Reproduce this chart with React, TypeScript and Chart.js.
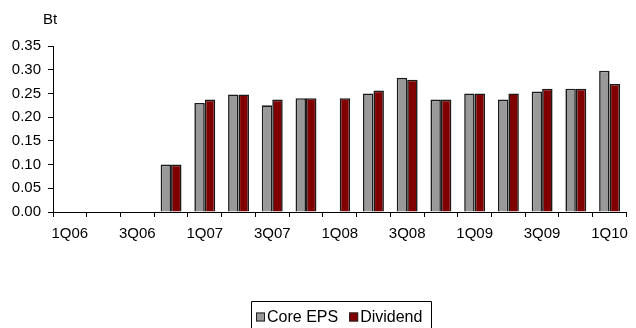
import React, { useEffect, useRef } from "react";
import { Chart, registerables } from "chart.js";

Chart.register(...registerables);

// Quarterly categories (every other one is labelled on the axis)
const quarters = [
  "1Q06", "2Q06", "3Q06", "4Q06",
  "1Q07", "2Q07", "3Q07", "4Q07",
  "1Q08", "2Q08", "3Q08", "4Q08",
  "1Q09", "2Q09", "3Q09", "4Q09",
  "1Q10",
];

const coreEps = [
  null, null, null, 0.1,
  0.23, 0.248, 0.225, 0.24,
  null, 0.25, 0.283, 0.237,
  0.25, 0.237, 0.254, 0.26,
  0.298,
];

const dividend = [
  null, null, null, 0.1,
  0.237, 0.248, 0.237, 0.24,
  0.24, 0.256, 0.279, 0.237,
  0.25, 0.25, 0.26, 0.26,
  0.27,
];

const yTicks = [0, 0.05, 0.1, 0.15, 0.2, 0.25, 0.3, 0.35];
const unitLabel = "Bt";

const FONT = "Liberation Sans, Arial, sans-serif";

const extrasPlugin = {
  id: "extras",
  afterDraw(chart: any) {
    const ctx = chart.ctx as CanvasRenderingContext2D;
    ctx.save();
    // unit label above the value axis
    ctx.fillStyle = "#000";
    ctx.font = `15px ${FONT}`;
    ctx.textBaseline = "alphabetic";
    ctx.textAlign = "left";
    ctx.fillText(unitLabel, 43, 24);

    // boxed legend below the plot
    const left = 251.5;
    const top = 301.5;
    const right = 431.5;
    ctx.strokeStyle = "#000";
    ctx.lineWidth = 1;
    ctx.beginPath();
    ctx.moveTo(left, 340);
    ctx.lineTo(left, top);
    ctx.lineTo(right, top);
    ctx.lineTo(right, 340);
    ctx.stroke();

    ctx.font = `16px ${FONT}`;
    ctx.textBaseline = "middle";
    let x = 256;
    const cy = 317;
    chart.data.datasets.forEach((ds: any) => {
      ctx.fillStyle = ds.backgroundColor;
      ctx.fillRect(x, cy - 4.5, 9, 9);
      ctx.strokeStyle = "#222";
      ctx.strokeRect(x + 0.5, cy - 4, 8, 8);
      ctx.fillStyle = "#000";
      ctx.fillText(ds.label, x + 11, cy + 0.5);
      x += 11 + ctx.measureText(ds.label).width + 11;
    });
    ctx.restore();
  },
};

export default function App() {
  const ref = useRef<HTMLCanvasElement>(null);

  useEffect(() => {
    if (!ref.current) return;
    const chart = new Chart(ref.current, {
      type: "bar",
      data: {
        labels: quarters,
        datasets: [
          {
            label: "Core EPS",
            data: coreEps,
            backgroundColor: "#999999",
            borderColor: "#1a1a1a",
            borderWidth: 1.6,
            categoryPercentage: 0.62,
            barPercentage: 1,
          },
          {
            label: "Dividend",
            data: dividend,
            backgroundColor: "#800000",
            borderColor: "#1a1a1a",
            borderWidth: 1.6,
            categoryPercentage: 0.62,
            barPercentage: 1,
          },
        ],
      },
      options: {
        responsive: false,
        animation: false,
        layout: { padding: { left: 0, right: 2.5, top: 46, bottom: 0 } },
        plugins: {
          legend: { display: false },
          tooltip: { enabled: false },
        },
        scales: {
          x: {
            offset: true,
            grid: {
              offset: true,
              display: true,
              drawOnChartArea: false,
              drawTicks: true,
              tickLength: 5,
              color: "#000",
            },
            border: { display: true, color: "#000", width: 1 },
            ticks: {
              autoSkip: false,
              maxRotation: 0,
              padding: 8,
              color: "#000",
              font: { family: FONT, size: 15 },
              callback: (_v: any, i: number) => (i % 2 === 0 ? quarters[i] : ""),
            },
            afterFit: (s: any) => {
              s.height = 116;
            },
          },
          y: {
            min: 0,
            max: 0.35,
            afterBuildTicks: (s: any) => {
              s.ticks = yTicks.map((v) => ({ value: v }));
            },
            grid: {
              display: true,
              drawOnChartArea: false,
              drawTicks: true,
              tickLength: 5,
              color: "#000",
            },
            border: { display: true, color: "#000", width: 1 },
            ticks: {
              padding: 7,
              color: "#000",
              font: { family: FONT, size: 15 },
              callback: (v: any) => Number(v).toFixed(2),
            },
            afterFit: (s: any) => {
              s.width = 53;
            },
          },
        },
      },
      plugins: [extrasPlugin],
    });
    return () => chart.destroy();
  }, []);

  return (
    <div style={{ position: "absolute", left: 0, top: 0, width: 636, height: 328, background: "#fff" }}>
      <canvas ref={ref} width={636} height={328} style={{ width: 636, height: 328 }} />
    </div>
  );
}
